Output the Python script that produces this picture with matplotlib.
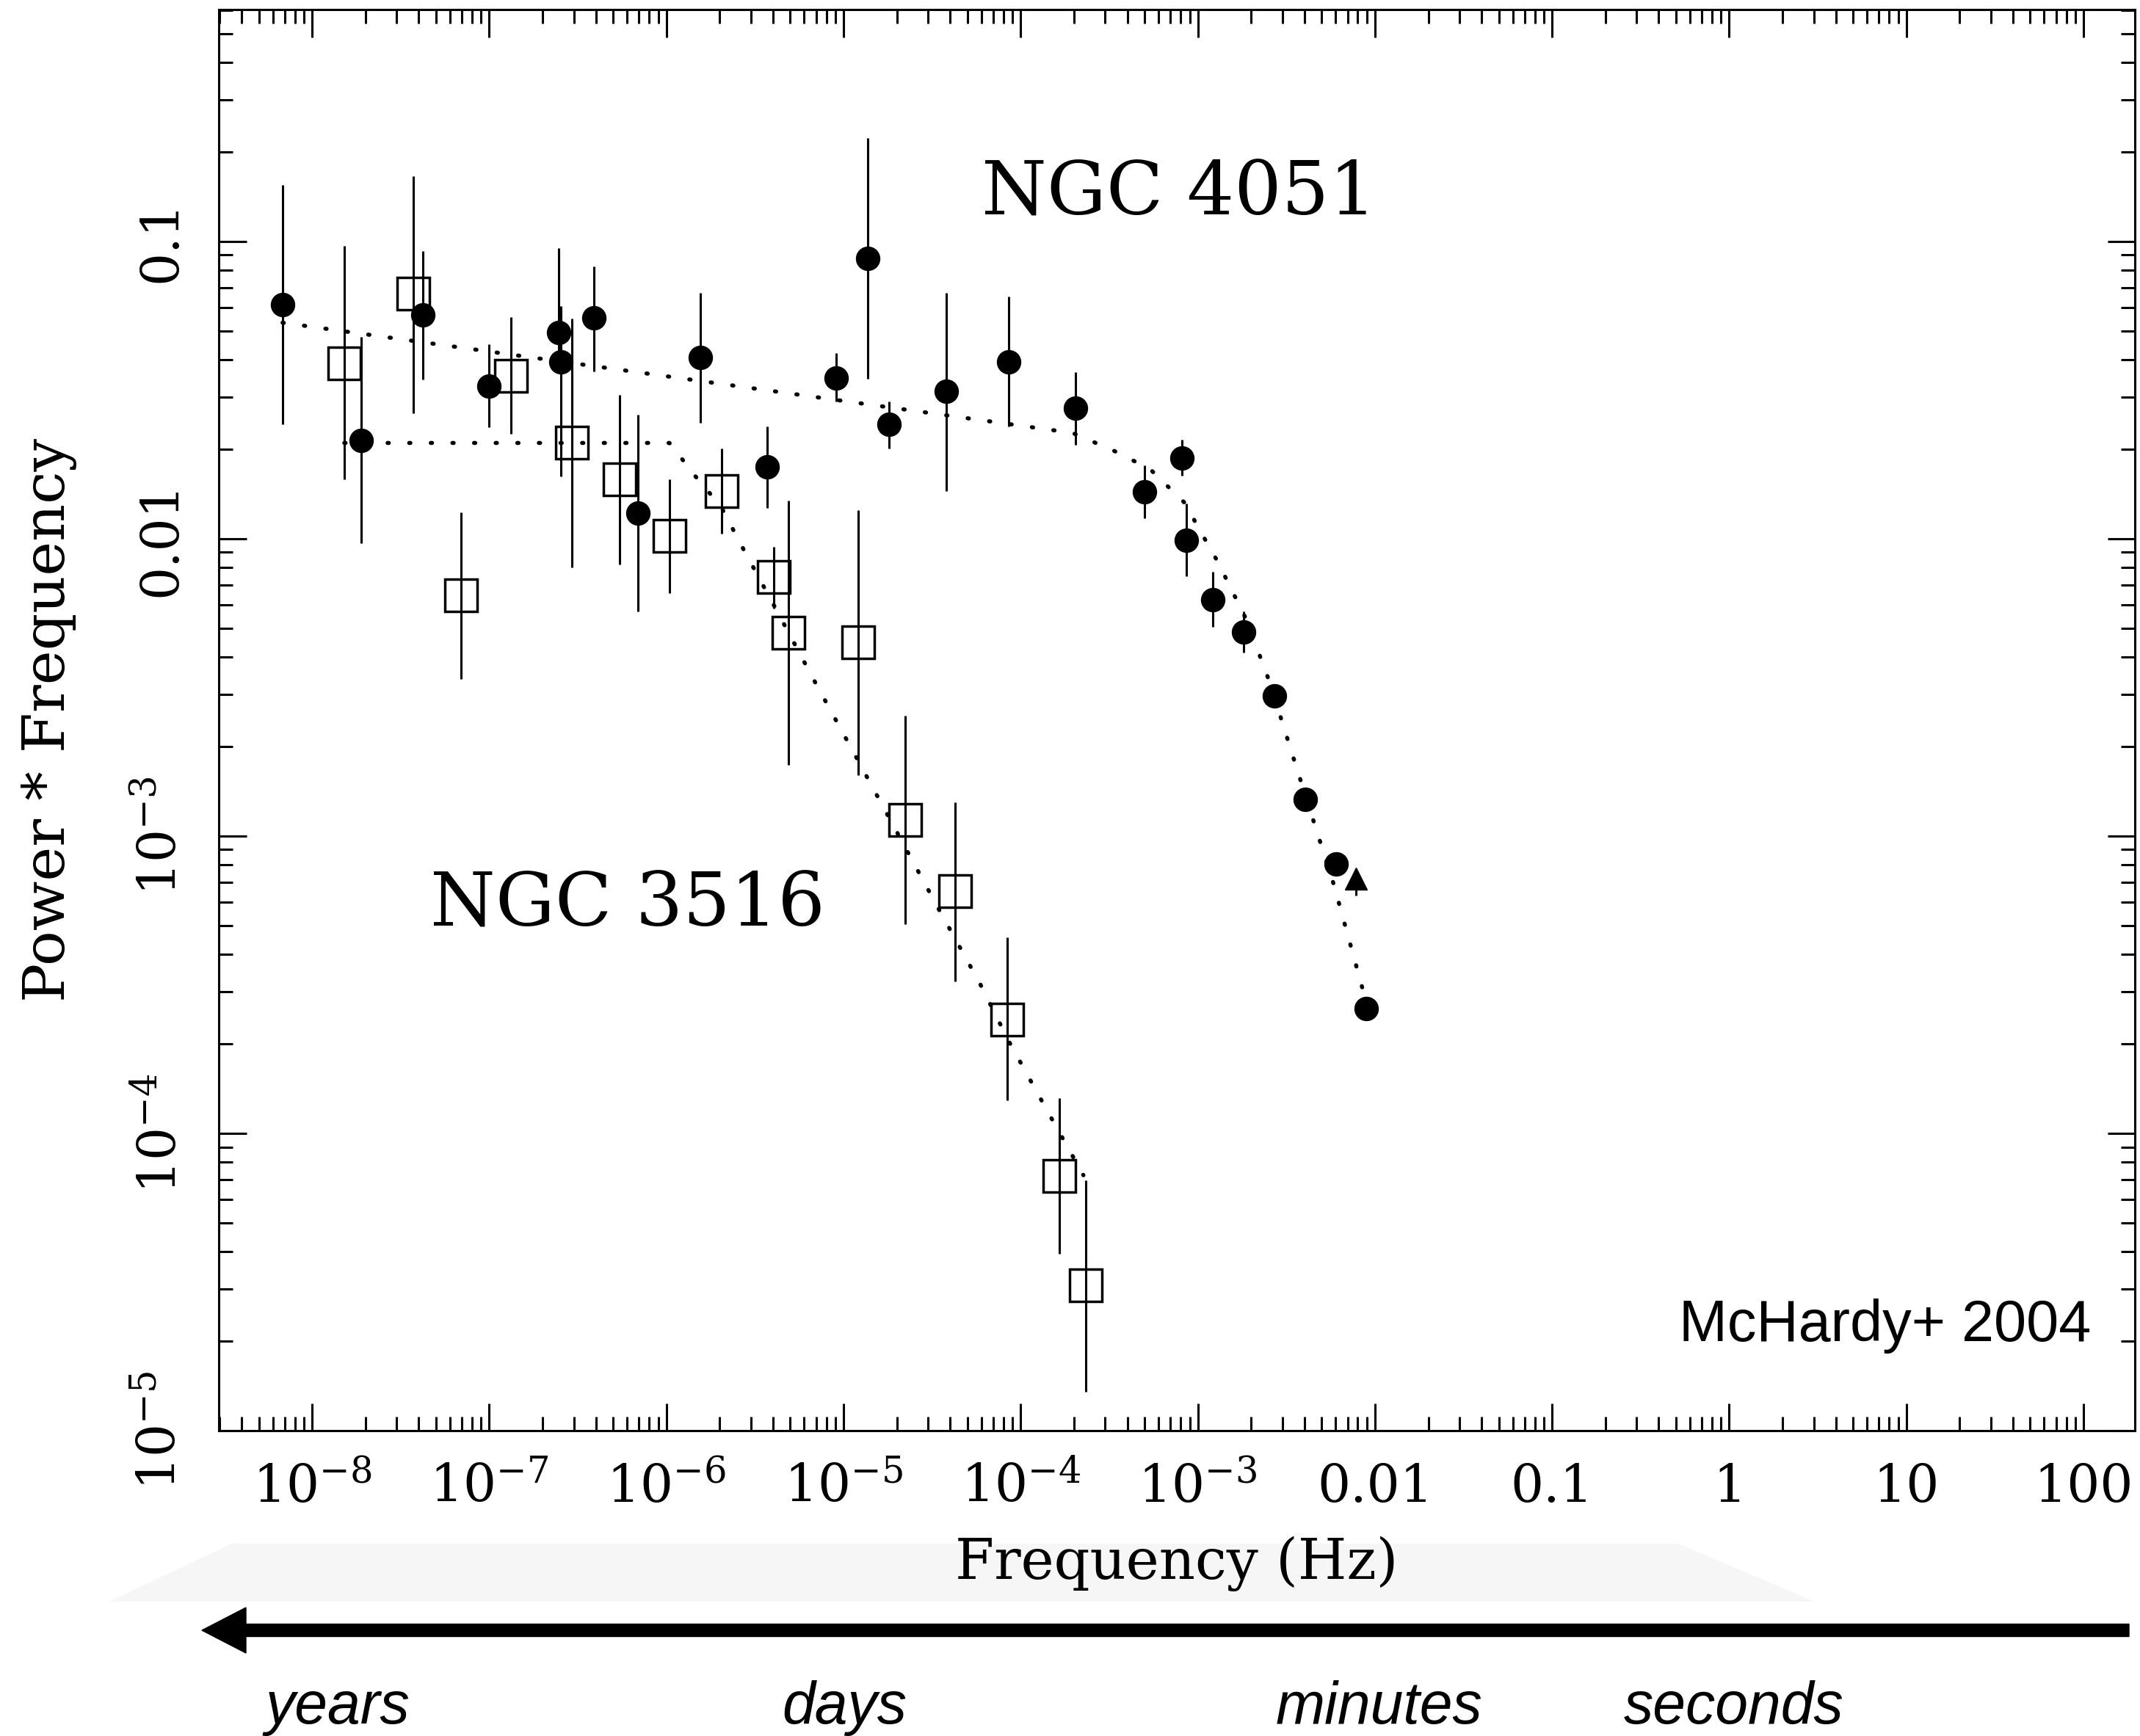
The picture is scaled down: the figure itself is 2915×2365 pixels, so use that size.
import matplotlib
matplotlib.use('Agg')
import matplotlib.pyplot as plt
import numpy as np
from matplotlib.ticker import LogLocator, NullFormatter
from matplotlib.patches import Polygon, FancyArrow

plt.rcParams['font.family'] = 'DejaVu Serif'
plt.rcParams['mathtext.fontset'] = 'dejavuserif'

# NGC 4051 power spectrum (filled circles)
f4051 = [6.81e-9, 1.90e-8, 4.20e-8, 1.00e-7, 2.47e-7, 2.54e-7, 3.89e-7, 6.90e-7,
         1.56e-6, 3.72e-6, 9.08e-6, 1.37e-5, 1.81e-5, 3.79e-5, 8.53e-5, 2.03e-4,
         5.01e-4, 8.11e-4, 8.61e-4, 1.21e-3, 1.81e-3, 2.70e-3, 4.06e-3, 6.04e-3, 8.97e-3]
p4051 = [0.0613, 0.0214, 0.0565, 0.0327, 0.0494, 0.0393, 0.0553, 0.0122,
         0.0406, 0.01746, 0.0348, 0.0879, 0.0242, 0.0313, 0.0394, 0.02754,
         0.0144, 0.0187, 0.0099, 0.00624, 0.00485, 0.00296, 0.00133, 0.000807, 0.000263]
lo4051 = [0.0243, 0.00966, 0.0343, 0.0237, 0.0369, 0.0162, 0.0366, 0.0057,
          0.0245, 0.01268, 0.029, 0.0346, 0.0201, 0.0145, 0.0239, 0.0207,
          0.01175, 0.0163, 0.00747, 0.00506, 0.00415, 0.0028, 0.00127, 0.00079, 0.000263]
hi4051 = [0.155, 0.0478, 0.093, 0.0452, 0.0949, 0.0605, 0.0826, 0.0262,
          0.0673, 0.0238, 0.0421, 0.223, 0.029, 0.0673, 0.0653, 0.0364,
          0.01766, 0.0215, 0.0131, 0.00772, 0.0057, 0.0031, 0.0014, 0.00082, 0.000263]

# single triangle point
f_tri = [7.82e-3]
p_tri = [7.2e-4]
lo_tri = [6.3e-4]

# NGC 3516 power spectrum (open squares)
f3516 = [1.52e-8, 3.74e-8, 6.92e-8, 1.33e-7, 2.94e-7, 5.43e-7, 1.04e-6, 2.05e-6,
         4.05e-6, 4.91e-6, 1.205e-5, 2.22e-5, 4.26e-5, 8.39e-5, 1.65e-4, 2.33e-4]
p3516 = [0.039, 0.0667, 0.00647, 0.0353, 0.021, 0.0158, 0.0102, 0.01445,
         0.00743, 0.00482, 0.00448, 0.00113, 0.000653, 0.000241, 7.19e-5, 3.08e-5]
lo3516 = [0.0158, 0.0265, 0.00338, 0.0225, 0.0080, 0.00817, 0.00655, 0.0104,
          0.00583, 0.00174, 0.0016, 0.000506, 0.000325, 0.000129, 3.94e-5, 1.35e-5]
hi3516 = [0.0968, 0.166, 0.0123, 0.0557, 0.055, 0.0305, 0.0158, 0.0201,
          0.0094, 0.0134, 0.0125, 0.00254, 0.0013, 0.000456, 0.000131, 6.96e-5]

# model curves (dotted)
fm4051 = [6.81e-9, 1.96e-4, 3.34e-4, 5.38e-4, 8.63e-4, 9.73e-4, 1.294e-3, 1.879e-3,
          2.54e-3, 3.53e-3, 5.87e-3, 8.95e-3]
pm4051 = [0.0533, 0.0227, 0.0198, 0.01714, 0.01303, 0.0113, 0.00838, 0.00535,
          0.0033, 0.00177, 0.000684, 0.000275]
fm3516 = [1.52e-8, 1.04e-6, 1.24e-6, 1.49e-6, 2.03e-6, 2.72e-6, 4.04e-6, 6.82e-6,
          1.18e-5, 2.01e-5, 3.44e-5, 5.89e-5, 8.57e-5, 1.49e-4, 2.26e-4]
pm3516 = [0.021, 0.021, 0.01837, 0.01596, 0.01285, 0.00923, 0.00598, 0.00334,
          0.00184, 0.001026, 0.000569, 0.000319, 0.000204, 0.0001125, 7.23e-5]

xticks = [1e-8, 1e-7, 1e-6, 1e-5, 1e-4, 1e-3, 0.01, 0.1, 1, 10, 100]
xticklabels = [r'$10^{-8}$', r'$10^{-7}$', r'$10^{-6}$', r'$10^{-5}$', r'$10^{-4}$',
               r'$10^{-3}$', '0.01', '0.1', '1', '10', '100']
yticks = [1e-5, 1e-4, 1e-3, 0.01, 0.1]
yticklabels = [r'$10^{-5}$', r'$10^{-4}$', r'$10^{-3}$', '0.01', '0.1']

timescales = ['years', 'days', 'minutes', 'seconds']
timescale_x = [362, 1065, 1738, 2212]  # left edge, pixels

W, H = 2915, 2365
fig = plt.figure(figsize=(W / 100, H / 100), dpi=100)
ax = fig.add_axes([298 / W, 1 - 1949 / H, 2610 / W, 1936 / H])

dots = (0, (0.3, 5.0))
ax.plot(fm4051, pm4051, color='black', lw=4.0, linestyle=dots, dash_capstyle='round')
ax.plot(fm3516, pm3516, color='black', lw=4.0, linestyle=dots, dash_capstyle='round')

p = np.array(p4051)
ax.errorbar(f4051, p4051, yerr=[p - np.array(lo4051), np.array(hi4051) - p],
            fmt='o', color='black', ms=23, elinewidth=2.2, capsize=0)
p = np.array(p3516)
ax.errorbar(f3516, p3516, yerr=[p - np.array(lo3516), np.array(hi3516) - p],
            fmt='s', color='black', mfc='none', mec='black', mew=2.5, ms=31,
            elinewidth=2.2, capsize=0)
p = np.array(p_tri)
ax.errorbar(f_tri, p_tri, yerr=[p - np.array(lo_tri), np.zeros(1)],
            fmt='^', color='black', ms=22, elinewidth=2.2, capsize=0)

ax.set_xscale('log')
ax.set_yscale('log')
ax.set_xlim(10 ** -8.527, 10 ** 2.29)
ax.set_ylim(1e-5, 10 ** -0.22)

for s in ax.spines.values():
    s.set_linewidth(2.2)

ax.xaxis.set_minor_locator(LogLocator(base=10, subs=np.arange(2, 10), numticks=100))
ax.yaxis.set_minor_locator(LogLocator(base=10, subs=np.arange(2, 10), numticks=100))
ax.xaxis.set_minor_formatter(NullFormatter())
ax.yaxis.set_minor_formatter(NullFormatter())
ax.tick_params(which='both', direction='in', top=True, right=True, width=2.2)
ax.tick_params(which='major', length=27)
ax.tick_params(which='minor', length=14)
ax.tick_params(axis='x', which='major', pad=70, labelsize=51)
ax.tick_params(axis='y', which='major', pad=42, labelsize=51)

ax.set_xticks(xticks, xticklabels, va='baseline')
ax.set_yticks(yticks, yticklabels, rotation=90, va='baseline', ha='center',
              rotation_mode='anchor')

ax.set_xlabel('Frequency (Hz)', fontsize=55)
ax.xaxis.set_label_coords(0.5, -0.0744)
ax.set_ylabel('Power * Frequency', fontsize=57)
ax.yaxis.set_label_coords(-0.074, 0.5)

ax.text(6.04e-5, 0.123, 'NGC 4051', fontsize=73, ha='left', va='baseline')
ax.text(4.64e-8, 4.98e-4, 'NGC 3516', fontsize=73, ha='left', va='baseline')
ax.text(0.977, 0.063, 'McHardy+ 2004', transform=ax.transAxes, fontsize=57,
        family='Liberation Sans', ha='right', va='baseline')

# faint band behind the axis label
band = Polygon([[149 / W, 1 - 2182 / H], [316 / W, 1 - 2103 / H],
                [2286 / W, 1 - 2103 / H], [2472 / W, 1 - 2182 / H]],
               closed=True, transform=fig.transFigure, facecolor='#f6f6f6',
               edgecolor='none', zorder=-5)
fig.patches.append(band)

# time-scale arrow
arrow = FancyArrow(29.0, 1.44, -26.25, 0, width=0.17, head_width=0.62, head_length=0.6,
                   length_includes_head=True, color='black', transform=fig.dpi_scale_trans)
fig.patches.append(arrow)

for name, xl in zip(timescales, timescale_x):
    fig.text(xl / W, 17 / H, name, fontsize=58, family='Liberation Sans',
             style='italic', ha='left', va='baseline')

fig.savefig('out.png', dpi=100)
